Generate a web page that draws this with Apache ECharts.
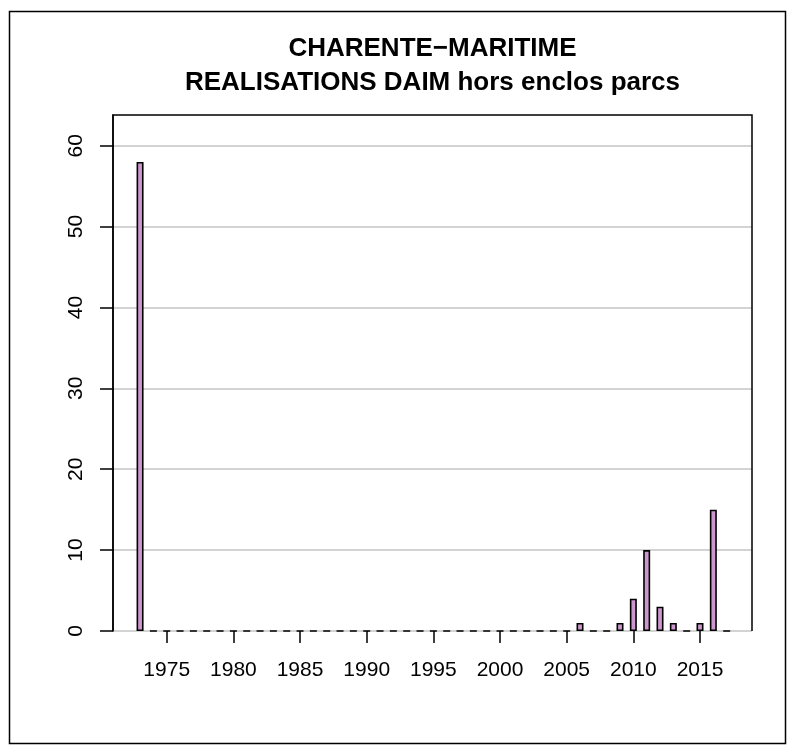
<!DOCTYPE html>
<html>
<head>
<meta charset="utf-8">
<script src="https://cdn.jsdelivr.net/npm/echarts@6/dist/echarts.min.js"></script>
<style>html,body{margin:0;padding:0;background:#fff}#c{width:795px;height:754px}</style>
</head>
<body>
<div id="c"></div>
<script>
var titleLines = ['CHARENTE\u2212MARITIME', 'REALISATIONS DAIM hors enclos parcs'];
var years = [];
for (var y = 1973; y <= 2017; y++) years.push(y);
var nonZeroYears = [1973, 2006, 2009, 2010, 2011, 2012, 2013, 2015, 2016];
var nonZeroValues = [58, 1, 1, 4, 10, 3, 1, 1, 15];
var xTickLabels = [1975, 1980, 1985, 1990, 1995, 2000, 2005, 2010, 2015];
var yTickLabels = [0, 10, 20, 30, 40, 50, 60];

var values = years.map(function (yr) {
  var i = nonZeroYears.indexOf(yr);
  return i >= 0 ? nonZeroValues[i] : 0;
});
var seriesData = years.map(function (yr, i) { return [yr, values[i]]; });

var GL = 113, GT = 115, GR = 752, GB = 631;
var FONT = '"Liberation Sans", Arial, Helvetica, sans-serif';

var chart = echarts.init(document.getElementById('c'), null, {renderer: 'canvas'});
chart.setOption({
  animation: false,
  backgroundColor: '#ffffff',
  grid: {left: GL, top: GT, width: GR - GL, height: GB - GT, show: false},
  xAxis: {
    type: 'value',
    min: 1970.97,
    max: 2018.9,
    axisLine: {show: false},
    splitLine: {show: false},
    axisTick: {show: true, customValues: xTickLabels, length: 12, lineStyle: {color: '#000', width: 1.5}},
    axisLabel: {customValues: xTickLabels, margin: 29, fontSize: 21, fontFamily: FONT, color: '#000',
      formatter: function (v) { return String(v); }}
  },
  yAxis: {
    type: 'value',
    min: 0,
    max: 63.8,
    interval: 10,
    axisLine: {show: true, lineStyle: {color: '#000', width: 1.5}},
    axisTick: {show: true, customValues: yTickLabels, length: 13, lineStyle: {color: '#000', width: 1.5}},
    axisLabel: {customValues: yTickLabels, rotate: 90, margin: 26, fontSize: 21, fontFamily: FONT, color: '#000'},
    splitLine: {show: true, lineStyle: {color: '#c4c4c4', width: 1.5}}
  },
  series: [{
    type: 'bar',
    data: seriesData,
    barWidth: 7,
    itemStyle: {color: '#cd96cd', borderColor: '#000', borderWidth: 1.6},
    z: 3
  }],
  graphic: [
    {type: 'polyline', z: 100, silent: true,
      shape: {points: [[GL, GB], [GL, GT], [GR, GT], [GR, GB]]},
      style: {stroke: '#000', lineWidth: 1.5, fill: null}},
    {type: 'rect', z: 100, silent: true,
      shape: {x: 9.5, y: 11.5, width: 776, height: 732},
      style: {stroke: '#000', lineWidth: 1.5, fill: null}},
    {type: 'text', z: 100, x: (GL + GR) / 2, y: 62,
      style: {text: titleLines[0], font: 'bold 26px ' + FONT, fill: '#000', textAlign: 'center', textVerticalAlign: 'bottom'}},
    {type: 'text', z: 100, x: (GL + GR) / 2, y: 96,
      style: {text: titleLines[1], font: 'bold 26px ' + FONT, fill: '#000', textAlign: 'center', textVerticalAlign: 'bottom'}}
  ]
});
</script>
</body>
</html>
